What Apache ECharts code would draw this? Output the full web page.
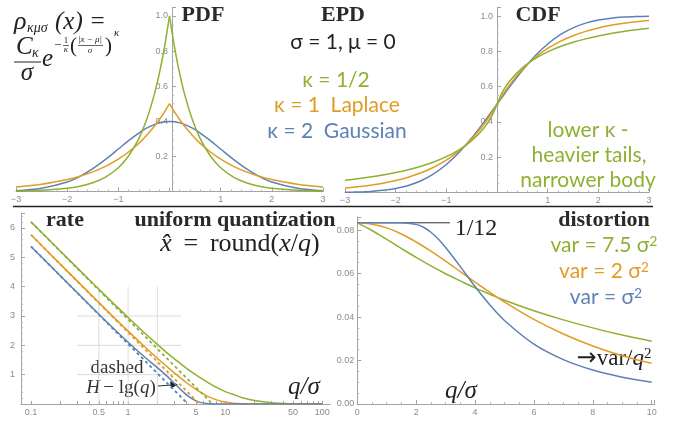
<!DOCTYPE html>
<html>
<head>
<meta charset="utf-8">
<script src="https://cdn.jsdelivr.net/npm/echarts@6/dist/echarts.min.js"></script>
<style>
  html, body { margin: 0; padding: 0; background: #fff; }
  #c { width: 681px; height: 423px; }
</style>
</head>
<body>
<div id="c"></div>
<script>
// ---- Exponential power distributions, sigma = 1, mu = 0 ----
// PDF sampled on x >= 0 (curves are symmetric about 0)
const pdfX       = [0, 0.1, 0.2, 0.3, 0.45, 0.6, 0.8, 1.0, 1.25, 1.5, 1.75, 2.0, 2.5, 3.0];
const pdfHalf    = [1.0, 0.819, 0.670, 0.549, 0.407, 0.301, 0.202, 0.135, 0.082, 0.050, 0.030, 0.018, 0.007, 0.002];
const pdfLaplace = [0.5, 0.452, 0.409, 0.370, 0.319, 0.274, 0.225, 0.184, 0.143, 0.112, 0.087, 0.068, 0.041, 0.025];
const pdfGauss   = [0.399, 0.397, 0.391, 0.381, 0.361, 0.333, 0.290, 0.242, 0.183, 0.130, 0.086, 0.054, 0.018, 0.004];

// CDF
const cdfX       = [-3, -2.75, -2.5, -2.25, -2, -1.75, -1.5, -1.25, -1, -0.75, -0.5, -0.25, -0.1, 0,
                    0.1, 0.25, 0.5, 0.75, 1, 1.25, 1.5, 1.75, 2, 2.25, 2.5, 2.75, 3];
const cdfHalf    = [0.0699, 0.0783, 0.0881, 0.0996, 0.1132, 0.1294, 0.1489, 0.1729, 0.2030, 0.2417, 0.2935, 0.3679, 0.4337, 0.5,
                    0.5663, 0.6321, 0.7065, 0.7583, 0.7970, 0.8271, 0.8511, 0.8706, 0.8868, 0.9004, 0.9119, 0.9217, 0.9301];
const cdfLaplace = [0.0249, 0.0320, 0.0410, 0.0527, 0.0677, 0.0869, 0.1116, 0.1433, 0.1839, 0.2362, 0.3033, 0.3894, 0.4524, 0.5,
                    0.5476, 0.6106, 0.6967, 0.7638, 0.8161, 0.8567, 0.8884, 0.9131, 0.9323, 0.9473, 0.9590, 0.9680, 0.9751];
const cdfGauss   = [0.0013, 0.0030, 0.0062, 0.0122, 0.0228, 0.0401, 0.0668, 0.1056, 0.1587, 0.2266, 0.3085, 0.4013, 0.4602, 0.5,
                    0.5398, 0.5987, 0.6915, 0.7734, 0.8413, 0.8944, 0.9332, 0.9599, 0.9772, 0.9878, 0.9938, 0.9970, 0.9987];

// ---- Rate: entropy (bits/value) of round(x/q) vs q/sigma ----
const rateQ       = [0.1, 0.2, 0.5, 0.7, 1, 1.5, 2, 2.5, 3, 4, 5, 6, 7, 8, 10, 12, 15, 20, 30, 50, 70, 100];
const rateHalf    = [6.211, 5.216, 3.913, 3.442, 2.949, 2.405, 2.033, 1.753, 1.540, 1.215, 0.989, 0.820, 0.684, 0.580, 0.423, 0.330, 0.212, 0.116, 0.040, 0.007, 0.001, 0];
const rateLaplace = [5.766, 4.767, 3.455, 2.978, 2.484, 1.936, 1.560, 1.279, 1.056, 0.725, 0.496, 0.337, 0.226, 0.150, 0.065, 0.028, 0.007, 0.001, 0, 0, 0, 0];
const rateGauss   = [5.370, 4.371, 3.062, 2.591, 2.105, 1.586, 1.241, 0.957, 0.701, 0.312, 0.109, 0.030, 0.006, 0.001, 0, 0, 0, 0, 0, 0, 0, 0];
// dashed H - lg(q): value at q = 0.1 and the q where it reaches 0
const approxStart = { half: 6.207, laplace: 5.765, gauss: 5.369 };
const approxZeroQ = { half: 7.389, laplace: 5.437, gauss: 4.132 };
const rateTicksLabeled = [0.1, 0.5, 1, 5, 10, 50, 100];
const rateTicksAll = [0.1, 0.2, 0.3, 0.4, 0.5, 0.6, 0.7, 0.8, 0.9, 1, 2, 3, 4, 5, 6, 7, 8, 9, 10, 20, 30, 40, 50, 60, 70, 80, 90, 100];
const rateGridX = [0.5, 1, 2];
const rateGridY = [1, 2, 3];

// ---- Distortion: MSE / q^2 vs q/sigma ----
const distQGauss = [0, 0.5, 1, 1.5, 1.75, 2, 2.25, 2.5, 2.75, 3, 3.5, 4, 4.5, 5, 6, 7, 8, 9, 10];
const distGauss  = [0.0833, 0.0833, 0.0833, 0.0833, 0.0831, 0.0826, 0.0813, 0.0790, 0.0759, 0.0720, 0.0632, 0.0540, 0.0456, 0.0384, 0.0275, 0.0204, 0.0156, 0.0123, 0.0100];
const distQ       = [0, 0.5, 1, 1.5, 2, 2.5, 3, 3.5, 4, 4.5, 5, 6, 7, 8, 9, 10];
const distLaplace = [0.0833, 0.0827, 0.0810, 0.0782, 0.0745, 0.0703, 0.0657, 0.0609, 0.0561, 0.0514, 0.0469, 0.0389, 0.0322, 0.0267, 0.0222, 0.0187];
const distHalf    = [0.0833, 0.0798, 0.0757, 0.0715, 0.0674, 0.0635, 0.0599, 0.0566, 0.0534, 0.0505, 0.0477, 0.0429, 0.0387, 0.0350, 0.0317, 0.0289];
const twelfthSpan = [0, 3.15];

const BLUE = '#5e81b5', ORANGE = '#e19c24', GREEN = '#8fb032';
const AX = '#a3a3a3', LBL = '#8c8c8c';
const SERIF = '"Liberation Serif", "DejaVu Serif", serif';
const SANS = 'Lato, "Open Sans", sans-serif';

const zip = (xs, ys) => xs.map((x, i) => [x, ys[i]]);
const mirrorLeft = (xs, ys) => xs.map((x, i) => [-x, ys[i]]).reverse();
const mirrorFull = (xs, ys) => mirrorLeft(xs, ys).concat(zip(xs, ys).slice(1));

function axis(grid, extra) {
  const base = {
    gridIndex: grid,
    type: 'value',
    axisLine: { show: true, onZero: false, lineStyle: { color: AX, width: 1 } },
    axisTick: { show: true, inside: true, length: 4, lineStyle: { color: AX } },
    minorTick: { show: true, length: 2, lineStyle: { color: '#b8b8b8' } },
    splitLine: { show: false },
    axisLabel: { color: LBL, fontSize: 9, fontFamily: '"Liberation Sans", Arial, sans-serif', margin: 4 }
  };
  return Object.assign(base, extra);
}
const minusFmt = v => (v < 0 ? '\u2212' + Math.abs(v) : String(v));

function line(name, xi, yi, data, color, extra) {
  return Object.assign({
    name, type: 'line', xAxisIndex: xi, yAxisIndex: yi, data,
    showSymbol: false, symbol: 'none', smooth: 0.35, silent: true,
    lineStyle: { color, width: 1.5 }, itemStyle: { color }
  }, extra || {});
}

const series = [
  // PDF (cusp at 0 kept sharp by drawing each side separately)
  line('pdf κ=2', 0, 0, mirrorFull(pdfX, pdfGauss), BLUE),
  line('pdf κ=1 L', 0, 0, mirrorLeft(pdfX, pdfLaplace), ORANGE),
  line('pdf κ=1 R', 0, 0, zip(pdfX, pdfLaplace), ORANGE),
  line('pdf κ=1/2 L', 0, 0, mirrorLeft(pdfX, pdfHalf), GREEN),
  line('pdf κ=1/2 R', 0, 0, zip(pdfX, pdfHalf), GREEN),
  // CDF
  line('cdf κ=2', 1, 1, zip(cdfX, cdfGauss), BLUE),
  line('cdf κ=1', 1, 1, zip(cdfX, cdfLaplace), ORANGE),
  line('cdf κ=1/2', 1, 1, zip(cdfX, cdfHalf), GREEN),
  // rate grid lines
  ...rateGridY.map(v => line('gy' + v, 2, 2, [[0.3, v], [3.5, v]], '#dcdcdc', { smooth: false, lineStyle: { color: '#dcdcdc', width: 1 }, z: 1 })),
  ...rateGridX.map(v => line('gx' + v, 2, 2, [[v, 0], [v, 4]], '#dcdcdc', { smooth: false, lineStyle: { color: '#dcdcdc', width: 1 }, z: 1 })),
  // rate
  line('H κ=1/2', 2, 2, zip(rateQ, rateHalf), GREEN),
  line('H κ=1', 2, 2, zip(rateQ, rateLaplace), ORANGE),
  line('H κ=2', 2, 2, zip(rateQ, rateGauss), BLUE),
  line('h κ=1/2', 2, 2, [[0.1, approxStart.half], [approxZeroQ.half, 0]], GREEN, { smooth: false, lineStyle: { color: GREEN, width: 1.8, type: [3, 3] } }),
  line('h κ=1', 2, 2, [[0.1, approxStart.laplace], [approxZeroQ.laplace, 0]], ORANGE, { smooth: false, lineStyle: { color: ORANGE, width: 1.8, type: [3, 3] } }),
  line('h κ=2', 2, 2, [[0.1, approxStart.gauss], [approxZeroQ.gauss, 0]], BLUE, { smooth: false, lineStyle: { color: BLUE, width: 1.8, type: [3, 3] } }),
  // distortion
  line('1/12', 3, 3, twelfthSpan.map(q => [q, 1 / 12]), '#333', { smooth: false, lineStyle: { color: '#333', width: 1 } }),
  line('D κ=1/2', 3, 3, zip(distQ, distHalf), GREEN),
  line('D κ=1', 3, 3, zip(distQ, distLaplace), ORANGE),
  line('D κ=2', 3, 3, zip(distQGauss, distGauss), BLUE)
];

function txt(x, y, text, font, fill, align, extra) {
  return Object.assign({
    type: 'text', x, y, silent: true,
    style: { text, font, fill: fill || '#222', align: align || 'center', verticalAlign: 'middle' }
  }, extra || {});
}
const titleFont = 'bold 22px ' + SERIF;
const graphics = [
  // separator under the distribution panels
  { type: 'line', silent: true, shape: { x1: 13, y1: 206.5, x2: 653, y2: 206.5 }, style: { stroke: '#222', lineWidth: 1.5 } },
  // density formula
  txt(14, 22, 'ρ', 'italic 26px ' + SERIF, '#222', 'left'),
  txt(27, 28, 'κμσ', 'italic 14px ' + SERIF, '#222', 'left'),
  txt(55, 22, '(x) =', 'italic 25px ' + SERIF, '#222', 'left'),
  txt(16, 47, 'C', 'italic 25px ' + SERIF, '#222', 'left'),
  txt(32, 53, 'κ', 'italic 14px ' + SERIF, '#222', 'left'),
  { type: 'line', silent: true, shape: { x1: 14, y1: 62, x2: 41, y2: 62 }, style: { stroke: '#222', lineWidth: 1 } },
  txt(27, 73, 'σ', 'italic 25px ' + SERIF, '#222', 'center'),
  txt(42, 59, 'e', 'italic 25px ' + SERIF, '#222', 'left'),
  txt(54, 46, '−', '13px ' + SERIF, '#222', 'left'),
  txt(66, 41, '1', '9px ' + SERIF, '#222', 'center'),
  { type: 'line', silent: true, shape: { x1: 63, y1: 45.5, x2: 69, y2: 45.5 }, style: { stroke: '#222', lineWidth: 0.7 } },
  txt(66, 50, 'κ', 'italic 9px ' + SERIF, '#222', 'center'),
  txt(70, 46, '(', '21px ' + SERIF, '#222', 'left'),
  txt(90, 40, '|x − μ|', 'italic 9px ' + SERIF, '#222', 'center'),
  { type: 'line', silent: true, shape: { x1: 78, y1: 45.5, x2: 103, y2: 45.5 }, style: { stroke: '#222', lineWidth: 0.7 } },
  txt(90, 51, 'σ', 'italic 9px ' + SERIF, '#222', 'center'),
  txt(105, 46, ')', '21px ' + SERIF, '#222', 'left'),
  txt(114, 33, 'κ', 'italic 11px ' + SERIF, '#222', 'left'),
  // distribution panel titles and notes
  txt(203, 15, 'PDF', titleFont, '#2a2a2a'),
  txt(343, 15, 'EPD', titleFont, '#2a2a2a'),
  txt(538, 15, 'CDF', titleFont, '#2a2a2a'),
  txt(343, 42, 'σ = 1, μ = 0', '21px ' + SANS, '#222'),
  txt(336, 80, 'κ = 1/2', '21px ' + SANS, GREEN),
  txt(337, 105, 'κ = 1  Laplace', '21px ' + SANS, ORANGE),
  txt(337, 131, 'κ = 2  Gaussian', '21px ' + SANS, BLUE),
  txt(588, 130, 'lower κ -', '21px ' + SANS, GREEN),
  txt(589, 155, 'heavier tails,', '21px ' + SANS, GREEN),
  txt(588, 180, 'narrower body', '21px ' + SANS, GREEN),
  // rate panel
  txt(65, 220, 'rate', titleFont, '#2a2a2a'),
  txt(235, 220, 'uniform quantization', titleFont, '#2a2a2a'),
  {
    type: 'text', x: 240, y: 244, silent: true,
    style: {
      text: '{i|x\u0302}{r| \u2009=\u2009 round(}{i|x}{r|/}{i|q}{r|)}', align: 'center', verticalAlign: 'middle', fill: '#222',
      rich: { i: { font: 'italic 26px ' + SERIF, fill: '#222' }, r: { font: '26px ' + SERIF, fill: '#222' } }
    }
  },
  txt(33, 344, 'entropy', '22px ' + SERIF, '#333', 'center', { rotation: Math.PI / 2, originX: 33, originY: 344 }),
  txt(56, 348, 'bits/value', '22px ' + SERIF, '#333', 'center', { rotation: Math.PI / 2, originX: 56, originY: 348 }),
  txt(117, 368, 'dashed', '19px ' + SERIF, '#333'),
  {
    type: 'text', x: 121, y: 388, silent: true,
    style: {
      text: '{i|H} {r|− lg(}{i|q}{r|)}', align: 'center', verticalAlign: 'middle', fill: '#333',
      rich: { i: { font: 'italic 19px ' + SERIF, fill: '#333' }, r: { font: '19px ' + SERIF, fill: '#333' } }
    }
  },
  { type: 'line', silent: true, shape: { x1: 158, y1: 386, x2: 172, y2: 385 }, style: { stroke: '#333', lineWidth: 1 } },
  { type: 'polygon', silent: true, shape: { points: [[178, 384.5], [170, 381.5], [171, 388.5]] }, style: { fill: '#222' } },
  txt(304, 387, 'q/σ', 'italic 25px ' + SERIF, '#222'),
  // distortion panel
  txt(604, 220, 'distortion', titleFont, '#2a2a2a'),
  txt(476, 229, '1/12', '24px ' + SERIF, '#222'),
  {
    type: 'text', x: 604, y: 245, silent: true,
    style: { text: '{a|var = 7.5 σ}{s|2}', align: 'center', verticalAlign: 'middle',
      rich: { a: { font: '21px ' + SANS, fill: GREEN }, s: { font: '14px ' + SANS, fill: GREEN, verticalAlign: 'top' } } }
  },
  {
    type: 'text', x: 604, y: 271, silent: true,
    style: { text: '{a|var = 2 σ}{s|2}', align: 'center', verticalAlign: 'middle',
      rich: { a: { font: '21px ' + SANS, fill: ORANGE }, s: { font: '14px ' + SANS, fill: ORANGE, verticalAlign: 'top' } } }
  },
  {
    type: 'text', x: 606, y: 297, silent: true,
    style: { text: '{a|var = σ}{s|2}', align: 'center', verticalAlign: 'middle',
      rich: { a: { font: '21px ' + SANS, fill: BLUE }, s: { font: '14px ' + SANS, fill: BLUE, verticalAlign: 'top' } } }
  },
  txt(373, 333, 'quantization', '22px ' + SERIF, '#333', 'center', { rotation: Math.PI / 2, originX: 373, originY: 333 }),
  {
    type: 'text', x: 398, y: 329, silent: true, rotation: Math.PI / 2, originX: 398, originY: 329,
    style: { text: '{r|MSE/}{i|q}{s|2}', align: 'center', verticalAlign: 'middle',
      rich: { r: { font: '22px ' + SERIF, fill: '#333' }, i: { font: 'italic 22px ' + SERIF, fill: '#333' }, s: { font: '14px ' + SERIF, fill: '#333', verticalAlign: 'top' } } }
  },
  txt(461, 391, 'q/σ', 'italic 25px ' + SERIF, '#222'),
  {
    type: 'text', x: 614, y: 359, silent: true,
    style: { text: '{a|→}{r|var/}{i|q}{s|2}', align: 'center', verticalAlign: 'middle',
      rich: { a: { font: '24px "DejaVu Sans", sans-serif', fill: '#222' }, r: { font: '23px ' + SERIF, fill: '#222' }, i: { font: 'italic 23px ' + SERIF, fill: '#222' }, s: { font: '15px ' + SERIF, fill: '#222', verticalAlign: 'top' } } }
  }
];

const option = {
  animation: false,
  backgroundColor: '#fff',
  grid: [
    { left: 16, top: 7.2, width: 307, height: 184.3 },
    { left: 345, top: 7.2, width: 304, height: 185.3 },
    { left: 21, top: 213.3, width: 309, height: 190.7 },
    { left: 357.3, top: 217, width: 297.3, height: 187 }
  ],
  xAxis: [
    axis(0, { min: -3, max: 3, interval: 1, minorTick: { show: true, splitNumber: 5, length: 2, lineStyle: { color: '#b8b8b8' } },
      axisLabel: { color: LBL, fontSize: 9, margin: 4, formatter: v => (v === 0 ? '' : minusFmt(v)) } }),
    axis(1, { min: -3, max: 3, interval: 1, minorTick: { show: true, splitNumber: 5, length: 2, lineStyle: { color: '#b8b8b8' } },
      axisLabel: { color: LBL, fontSize: 9, margin: 4, formatter: v => (v === 0 ? '' : minusFmt(v)) } }),
    axis(2, { type: 'log', logBase: 10, min: 0.0789, max: 120,
      axisTick: { show: true, inside: true, length: 3, customValues: rateTicksAll, lineStyle: { color: AX } },
      minorTick: { show: false },
      axisLabel: { color: LBL, fontSize: 9, margin: 4, customValues: rateTicksLabeled, formatter: v => String(+(+v).toPrecision(3)) } }),
    axis(3, { min: 0, max: 10.1, interval: 2, minorTick: { show: true, splitNumber: 4, length: 2, lineStyle: { color: '#b8b8b8' } },
      axisLabel: { color: LBL, fontSize: 9, margin: 4, formatter: v => (Math.abs(v % 2) < 1e-9 ? String(v) : '') } })
  ],
  yAxis: [
    // vertical axis drawn through x = 0, with its labels beside it
    axis(0, { min: 0, max: 1.05, interval: 0.2, offset: -156,
      minorTick: { show: true, splitNumber: 4, length: 2, lineStyle: { color: '#b8b8b8' } },
      axisLabel: { color: LBL, fontSize: 9, margin: 4, formatter: v => (v === 0 || v > 1.001 ? '' : v.toFixed(1)) } }),
    axis(1, { min: 0, max: 1.05, interval: 0.2, offset: -152,
      minorTick: { show: true, splitNumber: 4, length: 2, lineStyle: { color: '#b8b8b8' } },
      axisLabel: { color: LBL, fontSize: 9, margin: 4, formatter: v => (v === 0 || v > 1.001 ? '' : v.toFixed(1)) } }),
    axis(2, { min: 0, max: 6.5, interval: 1,
      minorTick: { show: true, splitNumber: 5, length: 2, lineStyle: { color: '#b8b8b8' } },
      axisLabel: { color: LBL, fontSize: 9, margin: 6, formatter: v => (v === 0 || v % 1 ? '' : String(v)) } }),
    axis(3, { min: 0, max: 0.086, interval: 0.02,
      minorTick: { show: true, splitNumber: 4, length: 2, lineStyle: { color: '#b8b8b8' } },
      axisLabel: { color: LBL, fontSize: 9, margin: 3, formatter: v => (v > 0.081 ? '' : v.toFixed(2)) } })
  ],
  series,
  graphic: graphics
};

const chart = echarts.init(document.getElementById('c'), null, { renderer: 'canvas' });
chart.setOption(option);
</script>
</body>
</html>
